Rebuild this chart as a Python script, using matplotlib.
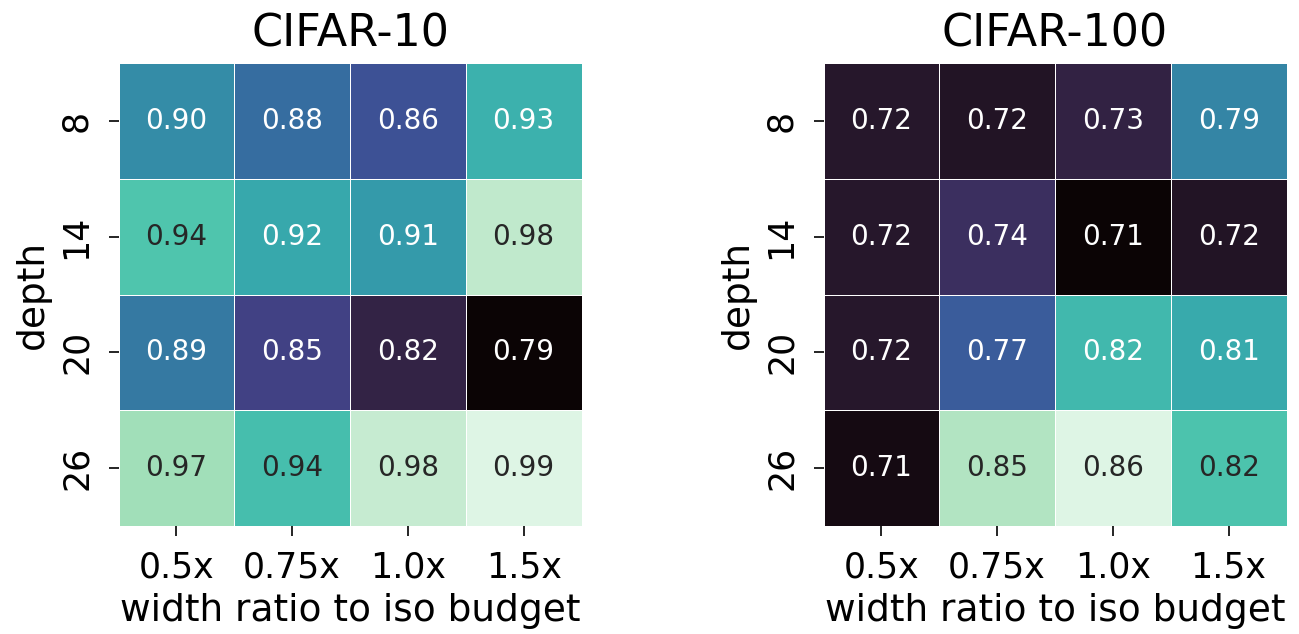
import numpy as np
import matplotlib
matplotlib.use("Agg")
import matplotlib.pyplot as plt
import seaborn as sns

# depths (rows) and width ratios (columns)
depths = ["8", "14", "20", "26"]
widths = ["0.5x", "0.75x", "1.0x", "1.5x"]

cifar10 = np.array([
    [0.902, 0.881, 0.862, 0.928],
    [0.943, 0.922, 0.912, 0.978],
    [0.889, 0.851, 0.823, 0.790],
    [0.968, 0.937, 0.980, 0.990],
])

cifar100 = np.array([
    [0.722, 0.720, 0.731, 0.790],
    [0.722, 0.741, 0.706, 0.720],
    [0.722, 0.768, 0.818, 0.810],
    [0.712, 0.849, 0.862, 0.824],
])

fig, axes = plt.subplots(1, 2, figsize=(12.99, 6.34), dpi=100)

for ax, data, title in zip(axes, [cifar10, cifar100], ["CIFAR-10", "CIFAR-100"]):
    sns.heatmap(data, ax=ax, cmap="mako", annot=True, fmt=".2f",
                annot_kws={"size": 20}, linewidths=0.6, linecolor="white",
                cbar=False, square=True,
                xticklabels=widths, yticklabels=depths)
    ax.set_title(title, fontsize=32, pad=12)
    ax.set_xlabel("width ratio to iso budget", fontsize=27, labelpad=6)
    ax.set_ylabel("depth", fontsize=27, labelpad=6)
    ax.tick_params(axis="both", labelsize=25, length=7, width=1.2, pad=11)
    ax.tick_params(axis="y", rotation=90)
    for lbl in ax.get_yticklabels():
        lbl.set_va("center")

axes[0].set_position([118 / 1299, 108 / 634, 464 / 1299, 463 / 634])
axes[1].set_position([823 / 1299, 108 / 634, 464 / 1299, 463 / 634])

fig.savefig("out.png", dpi=100)
